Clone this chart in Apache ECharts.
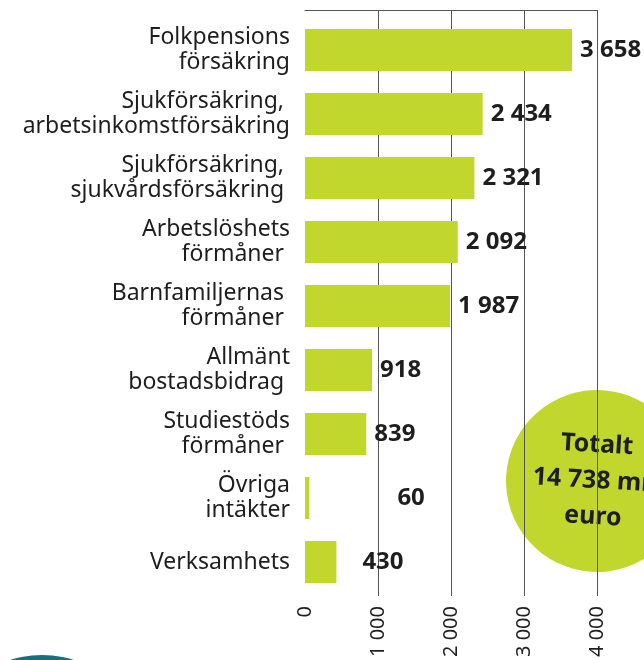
<!DOCTYPE html>
<html>
<head>
<meta charset="utf-8">
<script src="https://cdn.jsdelivr.net/npm/echarts@6/dist/echarts.min.js"></script>
<style>
  html, body { margin: 0; padding: 0; background: #fff; }
  #main { width: 644px; height: 660px; }
</style>
</head>
<body>
<div id="main"></div>
<script>
// kategorier, uppifrån och ned
const categories = [
  'Folkpensions\nförsäkring',
  'Sjukförsäkring, \narbetsinkomstförsäkring',
  'Sjukförsäkring, \nsjukvårdsförsäkring ',
  'Arbetslöshets\nförmåner ',
  'Barnfamiljernas \nförmåner ',
  'Allmänt\nbostadsbidrag ',
  'Studiestöds\nförmåner ',
  'Övriga\nintäkter',
  'Verksamhets'
];
// mn euro
const values = [3658, 2434, 2321, 2092, 1987, 918, 839, 60, 430];
const axisTicks = [0, 1000, 2000, 3000, 4000];
const totalText = ['Totalt', '14 738 mn', 'euro'];

const lime = '#c1d72e';
const ink = '#1e1e1e';
const font = '"Noto Sans", sans-serif';

// mellanslag som tusentalsavgränsare
function fmt(v) {
  return String(v).replace(/\B(?=(\d{3})+(?!\d))/g, ' ');
}

// några etiketter är förskjutna i originalet
const labelShift = { 7: 80, 8: 18 };

const chart = echarts.init(document.getElementById('main'), null, { renderer: 'canvas' });

const option = {
  animation: false,
  grid: [
    { left: 305, width: 292, top: 10, height: 590 }, // rutnät
    { left: 305, width: 292, top: 18, height: 576 }  // staplar
  ],
  xAxis: [
    {
      gridIndex: 0, type: 'value', position: 'bottom',
      min: axisTicks[0], max: axisTicks[axisTicks.length - 1], interval: 1000,
      axisLine: { show: false },
      axisTick: { show: false },
      splitLine: { show: true, showMinLine: false, lineStyle: { color: '#555', width: 1 } },
      axisLabel: {
        rotate: 90, margin: 10, color: ink, fontFamily: font, fontSize: 20,
        formatter: fmt
      }
    },
    {
      gridIndex: 0, type: 'value', position: 'top',
      min: 0, max: 4000,
      axisLine: { show: true, lineStyle: { color: '#555', width: 1 } },
      axisTick: { show: false }, axisLabel: { show: false }, splitLine: { show: false }
    },
    {
      gridIndex: 1, type: 'value', min: 0, max: 4000, show: false
    }
  ],
  yAxis: [
    { gridIndex: 0, type: 'value', show: false },
    {
      gridIndex: 1, type: 'category', data: categories, inverse: true,
      axisLine: { show: false }, axisTick: { show: false },
      axisLabel: {
        margin: 15, color: ink, fontFamily: font, fontSize: 23, lineHeight: 25
      }
    }
  ],
  series: [{
    type: 'bar',
    xAxisIndex: 2, yAxisIndex: 1,
    barWidth: 42,
    itemStyle: { color: lime },
    data: values.map((v, i) => ({
      value: v,
      label: { offset: [labelShift[i] || 0, 0] }
    })),
    label: {
      show: true, position: 'right', distance: 8,
      color: ink, fontFamily: font, fontWeight: 'bold', fontSize: 24,
      formatter: p => fmt(p.value)
    },
    z: 3
  }],
  graphic: [
    {
      type: 'group', x: 597, y: 481, rotation: -0.06, z: 100,
      children: [
        { type: 'circle', shape: { cx: 0, cy: 0, r: 91 }, style: { fill: lime } },
        {
          type: 'text', x: -2, y: 0,
          style: {
            text: totalText.join('\n'), align: 'center', verticalAlign: 'middle',
            fill: ink, fontFamily: font, fontWeight: 'bold', fontSize: 25, lineHeight: 36
          }
        }
      ]
    },
    // teal båge nere till vänster
    { type: 'circle', shape: { cx: 42, cy: 760, r: 105 }, style: { fill: '#17707f' }, z: 100 }
  ]
};

chart.setOption(option);
</script>
</body>
</html>
